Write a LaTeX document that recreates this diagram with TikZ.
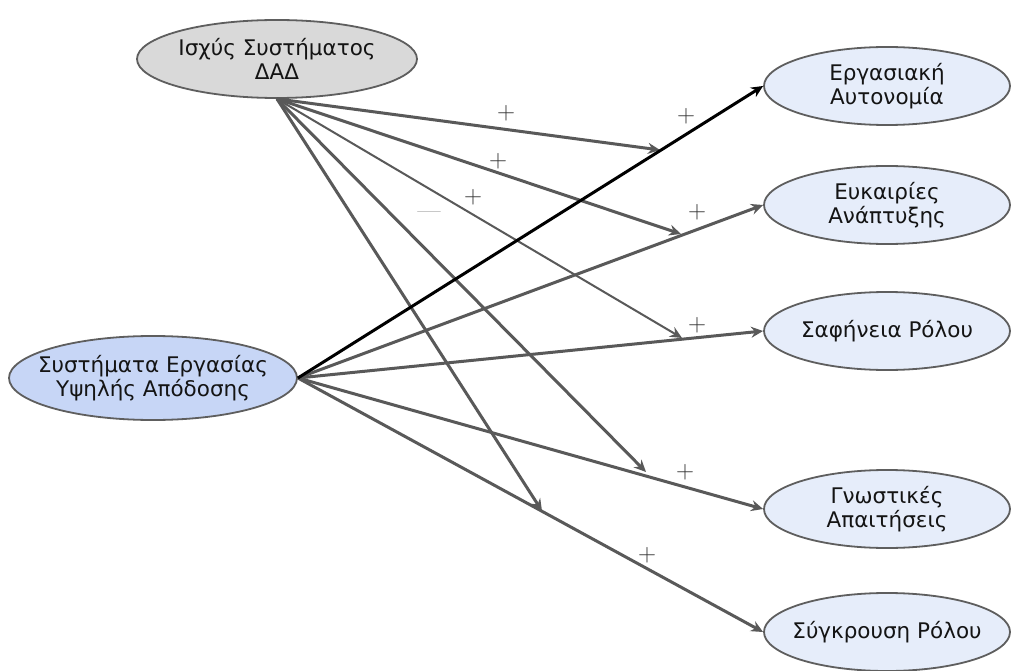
\documentclass[tikz,border=0pt]{standalone}
\usepackage{fontspec}
\setmainfont{DejaVu Sans}
\newfontfamily\signfont{Latin Modern Roman}
\usetikzlibrary{shapes.geometric,arrows.meta}

\definecolor{edgegray}{HTML}{5E5E5E}
\definecolor{linkgray}{HTML}{595959}
\definecolor{powerfill}{HTML}{D9D9D9}
\definecolor{hpwsfill}{HTML}{C7D6F6}
\definecolor{outfill}{HTML}{E6EDFA}
\definecolor{inktext}{HTML}{141414}

\tikzset{
  ellbase/.style={ellipse, draw=edgegray, line width=1.8pt, inner sep=0pt},
  srcpower/.style={ellbase, fill=powerfill, minimum width=280pt, minimum height=78pt},
  srchpws/.style={ellbase, fill=hpwsfill, minimum width=288pt, minimum height=84pt},
  outcome/.style={ellbase, fill=outfill, minimum width=246pt, minimum height=78pt},
  lbl/.style={align=center, text=inktext, inner sep=0pt,
              font=\fontsize{21.5}{24.5}\selectfont},
  link/.style={draw=linkgray, line width=3pt,
               -{Stealth[length=12pt,width=11pt,inset=4pt]}},
  thinlink/.style={link, line width=2pt},
  boldlink/.style={link, draw=black},
  sign/.style={text=black!80, inner sep=0pt, font=\signfont\fontsize{25}{25}\selectfont},
}

\begin{document}
\begin{tikzpicture}[x=1pt,y=-1pt]
\useasboundingbox[fill=white] (0,0) rectangle (1025,671);

% predictor constructs
\node[srcpower] (pow) at (277,59) {};
\node[lbl] (powt) at (pow) {Ισχύς Συστήματος\\ΔΑΔ};
\node[srchpws] (hpws) at (153,378) {};
\node[lbl] (hpwst) at (hpws) {Συστήματα Εργασίας\\Υψηλής Απόδοσης};

% outcome constructs
\node[outcome] (aut) at (887,86)  {};
\node[lbl] (autt) at (aut) {Εργασιακή\\Αυτονομία};
\node[outcome] (dev) at (887,205) {};
\node[lbl] (devt) at (dev) {Ευκαιρίες\\Ανάπτυξης};
\node[outcome] (cla) at (887,331) {};
\node[lbl] (clat) at (cla) {Σαφήνεια Ρόλου};
\node[outcome] (cog) at (887,509) {};
\node[lbl] (cogt) at (cog) {Γνωστικές\\Απαιτήσεις};
\node[outcome] (con) at (887,632) {};
\node[lbl] (cont) at (con) {Σύγκρουση Ρόλου};

% moderation arrows end on the direct paths
\coordinate (m1) at (660,150);
\coordinate (m2) at (681,234);
\coordinate (m3) at (682,338);
\coordinate (m4) at (646,472);
\coordinate (m5) at (542,511);

\draw[link] (pow.south) -- (m1);
\draw[link] (pow.south) -- (m2);
\draw[thinlink] (pow.south) -- (m3);
\draw[link] (pow.south) -- (m4);
\draw[link] (pow.south) -- (m5);

% direct paths
\draw[link] (hpws.east) -- (dev.west);
\draw[link] (hpws.east) -- (cla.west);
\draw[link] (hpws.east) -- (cog.west);
\draw[link] (hpws.east) -- (con.west);
\draw[boldlink] (hpws.east) -- (aut.west);

% signs
\node[sign] (s1) at (506,113) {+};
\node[sign] (s2) at (686,116) {+};
\node[sign] (s3) at (498,161) {+};
\node[sign] (s4) at (697,212) {+};
\node[sign] (s5) at (473,197) {+};
\node[sign, text=black!55] (s6) at (429,215) {\textemdash};
\node[sign] (s7) at (697,325) {+};
\node[sign] (s8) at (685,472) {+};
\node[sign] (s9) at (647,555) {+};
\end{tikzpicture}
\end{document}
